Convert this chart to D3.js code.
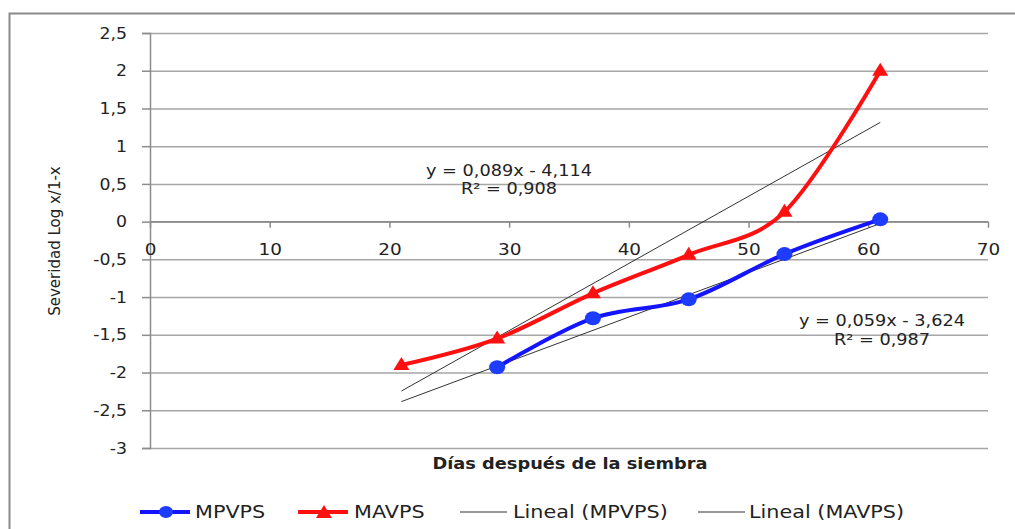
<!DOCTYPE html>
<html>
<head>
<meta charset="utf-8">
<script src="https://cdn.jsdelivr.net/npm/d3@7"></script>
<style>
  body { margin: 0; background: #fff; }
  svg { display: block; }
  text { font-family: "DejaVu Sans", sans-serif; fill: #222; }
</style>
</head>
<body>
<svg width="1015" height="529"></svg>
<script>
// data
const daysMP = [29, 37, 45, 53, 61]
const sevMP = [-1.93, -1.28, -1.03, -0.43, 0.03]
const daysMA = [21, 29, 37, 45, 53, 61]
const sevMA = [-1.9, -1.55, -0.95, -0.44, 0.13, 2.0]
// trend lines (slope, intercept), drawn over x 21..61
const trendNames = ["Lineal (MPVPS)", "Lineal (MAVPS)"]
const trendSlope = [0.059, 0.089]
const trendIntercept = [-3.624, -4.114]
const trendRange = [21, 61]
const eqLabels = [["y = 0,059x - 3,624", "R² = 0,987"], ["y = 0,089x - 4,114", "R² = 0,908"]]
const xTicks = [0, 10, 20, 30, 40, 50, 60, 70]
const yTicks = [2.5, 2, 1.5, 1, 0.5, 0, -0.5, -1, -1.5, -2, -2.5, -3]

const svg = d3.select("svg");
const fmt = d => String(d).replace(".", ",");

// the original text looks horizontally stretched, widen glyphs a bit
function stretch(sel, k) {
  sel.each(function() {
    var w = this.getComputedTextLength();
    d3.select(this).attr("textLength", w * k).attr("lengthAdjust", "spacingAndGlyphs");
  });
}

var x = d3.scaleLinear().domain([0, 70]).range([150, 988]);
var y = d3.scaleLinear().domain([-3, 2.5]).range([448, 33]);

// outer frame (top + left only visible)
svg.append("path")
  .attr("d", "M9.5,529 L9.5,13.5 L1015,13.5")
  .attr("fill", "none").attr("stroke", "#8a8a8a").attr("stroke-width", 2);

// horizontal gridlines
svg.append("g")
  .attr("transform", "translate(150,0)")
  .call(d3.axisLeft(y).tickValues(yTicks).tickSize(-(988 - 150)).tickFormat(""))
  .call(g => g.select(".domain").remove())
  .call(g => g.selectAll("line").attr("stroke", "#a6a6a6").attr("stroke-width", 1.5));

// y axis
var yAxis = svg.append("g")
  .attr("transform", "translate(150,0)")
  .call(d3.axisLeft(y).tickValues(yTicks).tickSize(8).tickPadding(15).tickFormat(fmt));
yAxis.select(".domain").attr("stroke", "#8c8c8c").attr("stroke-width", 1.5);
yAxis.selectAll("line").attr("stroke", "#8c8c8c").attr("stroke-width", 1.5);
yAxis.selectAll("text").attr("font-size", 16).attr("font-family", "DejaVu Sans").attr("fill", "#222")
  .call(stretch, 1.08);

// x axis crossing at y = 0, labels sit below between 0 and -0.5
var xAxis = svg.append("g")
  .attr("transform", `translate(0,${y(0)})`)
  .call(d3.axisBottom(x).tickValues(xTicks).tickSize(6).tickPadding(16).tickFormat(d => d));
xAxis.select(".domain").attr("stroke", "#8c8c8c").attr("stroke-width", 1.5)
  .attr("d", `M150,0H988`);
xAxis.selectAll("line").attr("stroke", "#8c8c8c").attr("stroke-width", 1.5);
xAxis.selectAll("text").attr("font-size", 16).attr("font-family", "DejaVu Sans").attr("fill", "#222")
  .call(stretch, 1.15);

// axis titles
svg.append("text")
  .attr("transform", "translate(60,241) rotate(-90)")
  .attr("text-anchor", "middle")
  .attr("font-size", 15)
  .text("Severidad Log x/1-x");
svg.append("text")
  .attr("x", 570).attr("y", 469)
  .attr("text-anchor", "middle")
  .attr("font-size", 16).attr("font-weight", "bold")
  .attr("fill", "#111")
  .text("Días después de la siembra")
  .call(stretch, 1.11);

// trend lines
trendSlope.forEach((m, i) => {
  svg.append("line")
    .attr("x1", x(trendRange[0])).attr("y1", y(m * trendRange[0] + trendIntercept[i]))
    .attr("x2", x(trendRange[1])).attr("y2", y(m * trendRange[1] + trendIntercept[i]))
    .attr("stroke", "#333").attr("stroke-width", 1);
});

var line = d3.line().curve(d3.curveCatmullRom.alpha(0));

var mp = daysMP.map((d, i) => [x(d), y(sevMP[i])]);
var ma = daysMA.map((d, i) => [x(d), y(sevMA[i])]);

svg.append("path").attr("d", line(ma))
  .attr("fill", "none").attr("stroke", "#ff1010").attr("stroke-width", 4);
svg.append("path").attr("d", line(mp))
  .attr("fill", "none").attr("stroke", "#1414ff").attr("stroke-width", 4);

svg.selectAll(".mp").data(mp).enter().append("ellipse")
  .attr("class", "mp")
  .attr("cx", d => d[0]).attr("cy", d => d[1])
  .attr("rx", 8).attr("ry", 7)
  .attr("fill", "#1e3cff");

var tri = (cx, cy) => `M${cx},${cy - 8}L${cx + 8},${cy + 5}L${cx - 8},${cy + 5}Z`;
svg.selectAll(".ma").data(ma).enter().append("path")
  .attr("class", "ma")
  .attr("d", d => tri(d[0], d[1]))
  .attr("fill", "#ff1010");

// equation labels
var eqPos = [[882, 326, 345], [509, 176, 194]];
eqLabels.forEach((lab, i) => {
  svg.append("text").attr("x", eqPos[i][0]).attr("y", eqPos[i][1]).attr("text-anchor", "middle")
    .attr("font-size", 15).text(lab[0]).call(stretch, 1.18);
  svg.append("text").attr("x", eqPos[i][0]).attr("y", eqPos[i][2]).attr("text-anchor", "middle")
    .attr("font-size", 15).text(lab[1]).call(stretch, 1.18);
});

// legend
var ly = 512;
var leg = svg.append("g");
leg.append("line").attr("x1", 140).attr("x2", 190).attr("y1", ly).attr("y2", ly)
  .attr("stroke", "#1414ff").attr("stroke-width", 4);
leg.append("ellipse").attr("cx", 166).attr("cy", ly).attr("rx", 7).attr("ry", 6).attr("fill", "#1e3cff");
leg.append("text").attr("x", 195).attr("y", ly + 6).attr("font-size", 17).text("MPVPS");

leg.append("line").attr("x1", 298).attr("x2", 348).attr("y1", ly).attr("y2", ly)
  .attr("stroke", "#ff1010").attr("stroke-width", 4);
leg.append("path").attr("d", tri(324, ly + 1)).attr("fill", "#ff1010");
leg.append("text").attr("x", 354).attr("y", ly + 6).attr("font-size", 17).text("MAVPS");

leg.append("line").attr("x1", 460).attr("x2", 507).attr("y1", ly).attr("y2", ly)
  .attr("stroke", "#333").attr("stroke-width", 1);
leg.append("text").attr("x", 513).attr("y", ly + 6).attr("font-size", 17).text(trendNames[0]);

leg.append("line").attr("x1", 698).attr("x2", 745).attr("y1", ly).attr("y2", ly)
  .attr("stroke", "#333").attr("stroke-width", 1);
leg.append("text").attr("x", 749).attr("y", ly + 6).attr("font-size", 17).text(trendNames[1]);
leg.selectAll("text").call(stretch, 1.22);
</script>
</body>
</html>
